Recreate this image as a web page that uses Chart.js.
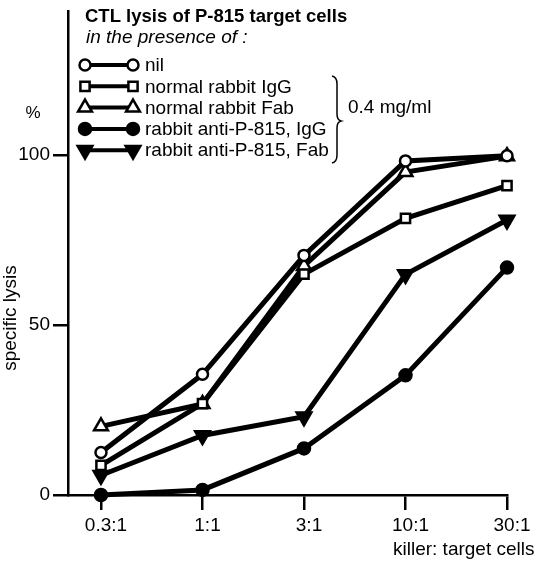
<!DOCTYPE html>
<html>
<head>
<meta charset="utf-8">
<script src="https://cdn.jsdelivr.net/npm/chart.js@4/dist/chart.umd.min.js"></script>
<style>
  html, body { margin: 0; padding: 0; background: #fff; }
</style>
</head>
<body>
<canvas id="lysisChart" width="537" height="562"></canvas>
<script>
// killer : target cell ratios (x axis)
const ratios = ["0.3:1", "1:1", "3:1", "10:1", "30:1"];
const yTicks = [0, 50, 100];

// % specific lysis
const nil = [12.5, 35.5, 70.5, 98.3, 99.8];
const normalIgG = [8.7, 26.9, 65.0, 81.4, 91.0];
const normalFab = [20.2, 26.8, 67.4, 95.0, 99.7];
const antiIgG = [0, 1.5, 13.7, 35.2, 66.9];
const antiFab = [5.8, 17.5, 23.0, 64.9, 80.9];

const labels = [
    "nil",
    "normal rabbit IgG",
    "normal rabbit Fab",
    "rabbit anti-P-815, IgG",
    "rabbit anti-P-815, Fab",
];

const FONT = '"Liberation Sans", Arial, Helvetica, sans-serif';

const toPoints = (arr) => arr.map((v, i) => ({ x: i, y: v }));

// shared look for a series
const series = (label, values, style, fill, radius, rotation) => ({
    label: label,
    data: toPoints(values),
    borderColor: "#000",
    borderWidth: 5,
    tension: 0,
    fill: false,
    clip: false,
    pointStyle: style,
    pointRotation: rotation || 0,
    pointRadius: radius,
    pointBackgroundColor: fill,
    pointBorderColor: "#000",
    pointBorderWidth: 2.5,
});

// legend block, brace and free text labels
const annotations = {
    id: "annotations",
    afterDraw(chart) {
        const ctx = chart.ctx;
        ctx.save();
        ctx.fillStyle = "#000";
        ctx.textAlign = "left";
        ctx.textBaseline = "alphabetic";
        ctx.font = "bold 18.5px " + FONT;
        ctx.fillText("CTL lysis of P-815 target cells", 85, 22);
        ctx.font = "italic 19px " + FONT;
        ctx.fillText("in the presence of :", 86, 43);

        chart.data.datasets.forEach((ds, i) => {
            const y = 65 + i * 21.3;
            ctx.strokeStyle = "#000";
            ctx.lineWidth = 4;
            ctx.beginPath();
            ctx.moveTo(85, y);
            ctx.lineTo(133, y);
            ctx.stroke();
            [85, 133].forEach((x) => {
                ctx.fillStyle = ds.pointBackgroundColor;
                ctx.strokeStyle = "#000";
                ctx.lineWidth = ds.pointBorderWidth;
                Chart.helpers.drawPoint(ctx, {
                    pointStyle: ds.pointStyle,
                    rotation: ds.pointRotation,
                    radius: ds.pointRadius,
                    borderWidth: ds.pointBorderWidth,
                }, x, y);
            });
            ctx.fillStyle = "#000";
            ctx.font = "19px " + FONT;
            ctx.textBaseline = "middle";
            ctx.fillText(ds.label, 145, y + 1);
        });

        // brace grouping the antibody rows
        ctx.strokeStyle = "#000";
        ctx.lineWidth = 1.5;
        ctx.beginPath();
        ctx.moveTo(332, 76);
        ctx.quadraticCurveTo(337, 77, 337, 84);
        ctx.lineTo(337, 114);
        ctx.quadraticCurveTo(337, 120, 341, 121);
        ctx.quadraticCurveTo(337, 122, 337, 128);
        ctx.lineTo(337, 155);
        ctx.quadraticCurveTo(337, 162, 332, 163);
        ctx.stroke();
        ctx.font = "19px " + FONT;
        ctx.textBaseline = "middle";
        ctx.fillText("0.4 mg/ml", 348, 108);

        ctx.font = "17px " + FONT;
        ctx.textAlign = "center";
        ctx.fillText("%", 33, 113);

        ctx.font = "19px " + FONT;
        ctx.textAlign = "left";
        ctx.fillText("killer: target cells", 393, 550);

        ctx.translate(11, 318);
        ctx.rotate(-Math.PI / 2);
        ctx.textAlign = "center";
        ctx.fillText("specific lysis", 0, 0);
        ctx.restore();
    },
};

const ctx = document.getElementById("lysisChart").getContext("2d");
new Chart(ctx, {
    type: "line",
    data: {
        datasets: [
            series(labels[0], nil, "circle", "#fff", 5.5),
            series(labels[1], normalIgG, "rect", "#fff", 6.5),
            series(labels[2], normalFab, "triangle", "#fff", 8),
            series(labels[3], antiIgG, "circle", "#000", 6),
            series(labels[4], antiFab, "triangle", "#000", 8.5, 180),
        ],
    },
    options: {
        responsive: false,
        animation: false,
        layout: { padding: { top: 5, right: 30, left: 0, bottom: 0 } },
        plugins: {
            legend: { display: false },
            tooltip: { enabled: false },
        },
        scales: {
            x: {
                type: "linear",
                min: -0.325,
                max: 4,
                afterFit: (s) => { s.height = 67; },
                afterBuildTicks: (s) => { s.ticks = ratios.map((_, i) => ({ value: i })); },
                grid: { drawOnChartArea: false, drawTicks: true, tickLength: 15, color: "#000", lineWidth: 2.5 },
                border: { display: true, color: "#000", width: 2.5 },
                ticks: {
                    callback: (v) => ratios[v],
                    color: "#000",
                    font: { size: 19, family: FONT },
                    padding: 4,
                    labelOffset: 5,
                    maxRotation: 0,
                    autoSkip: false,
                },
            },
            y: {
                min: 0,
                max: 142.4,
                afterFit: (s) => {
                    s.width = 68;
                    s.paddingTop = 0; // axis runs up to the top edge
                    s.paddingBottom = 0;
                },
                afterBuildTicks: (s) => { s.ticks = yTicks.map((v) => ({ value: v })); },
                grid: { drawOnChartArea: false, drawTicks: true, tickLength: 15, color: "#000", lineWidth: 2.5 },
                border: { display: true, color: "#000", width: 2.5 },
                ticks: {
                    color: "#000",
                    font: { size: 19, family: FONT },
                    padding: 3,
                },
            },
        },
    },
    plugins: [annotations],
});
</script>
</body>
</html>
